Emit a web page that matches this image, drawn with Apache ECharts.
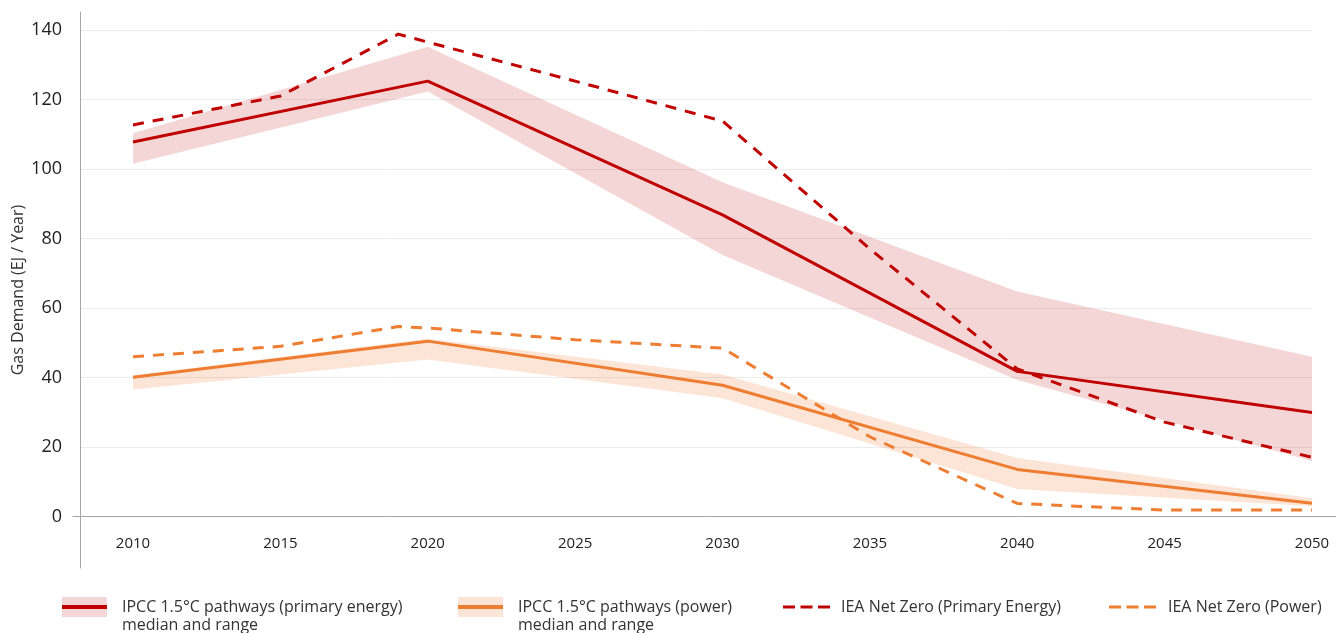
<!DOCTYPE html>
<html>
<head>
<meta charset="utf-8">
<script src="https://cdn.jsdelivr.net/npm/echarts@6/dist/echarts.min.js"></script>
<style>
  html, body { margin: 0; padding: 0; background: #fff; }
  #chart { width: 1336px; height: 633px; }
</style>
</head>
<body>
<div id="chart"></div>
<script>
// IPCC 1.5°C pathways: median and range (min / max)
const ipccYears = [2010, 2020, 2030, 2040, 2050];
const primaryMedian = [107.8, 125.3, 86.8, 41.8, 30.0];
const primaryLow = [101.5, 122.3, 75.3, 39.3, 16.0];
const primaryHigh = [110.3, 135.2, 96.2, 64.8, 46.0];
const powerMedian = [40.1, 50.5, 37.8, 13.6, 3.9];
const powerLow = [36.6, 45.2, 34.1, 8.0, 3.0];
const powerHigh = [40.6, 51.2, 40.9, 16.9, 5.3];

// IEA Net Zero
const ieaYears = [2010, 2015, 2019, 2020, 2025, 2030, 2035, 2040, 2045, 2050];
const ieaPrimary = [112.7, 121.0, 138.8, 136.5, 125.3, 113.8, 77.0, 42.5, 27.2, 17.1];
const ieaPower = [46.0, 49.0, 54.7, 54.3, 50.9, 48.5, 23.0, 3.8, 1.9, 1.9];

const xTicks = [2010, 2015, 2020, 2025, 2030, 2035, 2040, 2045, 2050];

const RED = '#c00000';
const PINK = 'rgba(192,0,0,0.16)';
const ORANGE = '#ee7d31';
const PEACH = 'rgba(238,125,49,0.2)';

const N_PRIMARY = 'IPCC 1.5°C pathways (primary energy)';
const N_POWER = 'IPCC 1.5°C pathways (power)';
const N_IEA_PRIMARY = 'IEA Net Zero (Primary Energy)';
const N_IEA_POWER = 'IEA Net Zero (Power)';

const pairs = (xs, ys) => xs.map((x, i) => [x, ys[i]]);

const legendFont = { fontFamily: 'Open Sans', fontSize: 16, color: '#333', lineHeight: 18 };
// leading empty line keeps the first text line level with the icon
const twoLine = n => '\n' + n + '\nmedian and range';
const dashIcon = 'path://M0,0h12v3H0z M17.5,0h12v3h-12z M35,0h12v3h-12z';

function bandLegend(left, name, fill) {
    return {
        left: left, top: 580, padding: 0, selectedMode: false,
        itemWidth: 45, itemHeight: 20,
        data: [{ name: name, icon: 'rect', itemStyle: { color: fill, borderWidth: 0 } }],
        formatter: twoLine,
        textStyle: Object.assign({}, legendFont, { color: 'rgba(0,0,0,0)', padding: [0, 0, 0, 10] })
    };
}
function medianLegend(left, name, color) {
    return {
        left: left, top: 580, padding: 0, selectedMode: false,
        itemWidth: 45, itemHeight: 4,
        data: [{ name: name, icon: 'rect', itemStyle: { color: color, borderWidth: 0 } }],
        formatter: twoLine,
        textStyle: Object.assign({}, legendFont, { padding: [0, 0, 0, 10] })
    };
}
function dashLegend(left, name, color, pad) {
    return {
        left: left, top: 598, padding: 0, selectedMode: false,
        itemWidth: 47, itemHeight: 3,
        data: [{ name: name, icon: dashIcon, itemStyle: { color: color, borderWidth: 0 } }],
        textStyle: Object.assign({}, legendFont, { padding: [0, 0, 0, pad] })
    };
}

// range band: one polygon from the low edge forward and the high edge back
function band(name, years, lo, hi, fill) {
    return {
        name: name, type: 'custom', xAxisIndex: 0, yAxisIndex: 0, silent: true, z: 1,
        data: years.map((y, i) => [y, lo[i], hi[i]]),
        encode: { x: 0, y: [1, 2] },
        renderItem: function (params, api) {
            if (params.dataIndex !== 0) return null;
            const pts = [];
            years.forEach((y, i) => pts.push(api.coord([y, lo[i]])));
            for (let i = years.length - 1; i >= 0; i--) pts.push(api.coord([years[i], hi[i]]));
            return { type: 'polygon', shape: { points: pts }, style: { fill: fill } };
        }
    };
}
function line(name, data, color, dashed) {
    return {
        name: name, type: 'line', xAxisIndex: 0, yAxisIndex: 0,
        symbol: 'none',
        itemStyle: { color: color },
        lineStyle: { color: color, width: 3, type: dashed ? [11, 9] : 'solid' },
        data: data, z: dashed ? 4 : 3
    };
}

var myChart = echarts.init(document.getElementById('chart'), null, { renderer: 'canvas' });

var option = {
    animation: false,
    textStyle: { fontFamily: 'Open Sans' },
    grid: [
        // data
        { left: 73, right: 0, top: 30, bottom: 116.3 },
        // horizontal gridlines
        { left: 81, right: 24, top: 30, bottom: 116.3 },
        // long vertical axis line
        { left: 80, right: 0, top: 12, bottom: 65 }
    ],
    xAxis: [
        {
            type: 'value', gridIndex: 0, min: 2007.964, max: 2050.814,
            axisLine: { show: true, onZero: false, lineStyle: { color: '#a6a6a6', width: 1 } },
            axisTick: { show: false },
            splitLine: { show: false },
            axisLabel: {
                customValues: xTicks, margin: 20,
                fontSize: 15, color: '#222', fontFamily: 'Open Sans',
                formatter: v => String(v)
            }
        },
        { type: 'value', gridIndex: 1, show: false, min: 0, max: 1 },
        { type: 'value', gridIndex: 2, show: false, min: 0, max: 1 }
    ],
    yAxis: [
        {
            type: 'value', gridIndex: 0, min: 0, max: 140, interval: 20,
            axisLine: { show: false }, axisTick: { show: false },
            splitLine: { show: false },
            axisLabel: { margin: 11, fontSize: 18, color: '#222', fontFamily: 'Open Sans' }
        },
        {
            type: 'value', gridIndex: 1, min: 0, max: 140, interval: 20,
            axisLine: { show: false }, axisTick: { show: false }, axisLabel: { show: false },
            splitLine: { show: true, lineStyle: { color: '#ececec', width: 1 } }
        },
        {
            type: 'value', gridIndex: 2, min: 0, max: 1,
            axisLine: { show: true, lineStyle: { color: '#a6a6a6', width: 1 } },
            axisTick: { show: false }, axisLabel: { show: false }, splitLine: { show: false },
            name: 'Gas Demand (EJ / Year)', nameLocation: 'middle', nameGap: 54, nameRotate: 90,
            nameTextStyle: { fontSize: 16, color: '#333', fontFamily: 'Open Sans' }
        }
    ],
    legend: [
        bandLegend(62, N_PRIMARY, PINK),
        medianLegend(62, N_PRIMARY, RED),
        bandLegend(458, N_POWER, PEACH),
        medianLegend(458, N_POWER, ORANGE),
        dashLegend(783, N_IEA_PRIMARY, RED, 6),
        dashLegend(1109, N_IEA_POWER, ORANGE, 7)
    ],
    series: [
        band('primaryRange', ipccYears, primaryLow, primaryHigh, PINK),
        band('powerRange', ipccYears, powerLow, powerHigh, PEACH),
        line(N_PRIMARY, pairs(ipccYears, primaryMedian), RED, false),
        line(N_POWER, pairs(ipccYears, powerMedian), ORANGE, false),
        line(N_IEA_PRIMARY, pairs(ieaYears, ieaPrimary), RED, true),
        line(N_IEA_POWER, pairs(ieaYears, ieaPower), ORANGE, true)
    ]
};

myChart.setOption(option);
</script>
</body>
</html>
